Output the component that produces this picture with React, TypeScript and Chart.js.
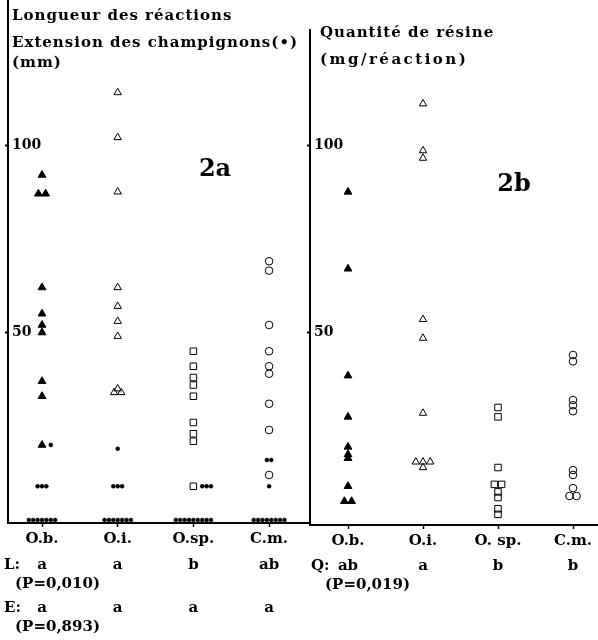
import { useEffect, useRef } from 'react';
import { Chart, registerables } from 'chart.js';

Chart.register(...registerables);

// ---------- data ----------
const categoriesLeft = ['O.b.', 'O.i.', 'O.sp.', 'C.m.'];
const categoriesRight = ['O.b.', 'O.i.', 'O. sp.', 'C.m.'];
const yTickValues = [50, 100];

// Longueur des réactions (mm)
const lengthOb = [92, 87, 87, 62, 55, 52, 50, 37, 33, 20];
const lengthOi = [114, 102, 87.5, 62, 57, 53, 49, 35, 34, 34];
const lengthOsp = [45, 41, 38, 36, 33, 26, 23, 21, 9];
const lengthCm = [69, 66.5, 52, 45, 41, 39, 31, 24, 12];

// Extension des champignons (•) (mm)
const extOb = [20, 9, 9, 9, 0, 0, 0, 0, 0, 0, 0];
const extOi = [19, 9, 9, 9, 0, 0, 0, 0, 0, 0, 0];
const extOsp = [9, 9, 9, 0, 0, 0, 0, 0, 0, 0, 0, 0];
const extCm = [16, 16, 9, 0, 0, 0, 0, 0, 0, 0, 0];

// Quantité de résine (mg/réaction)
const resinOb = [87.5, 67, 38.5, 27.5, 19.5, 17.5, 16.5, 9, 5, 5];
const resinOi = [111, 98.5, 96.5, 53.5, 48.5, 28.5, 15.5, 15.5, 15.5, 14];
const resinOsp = [30, 27.5, 14, 9.5, 9.5, 7.5, 6, 3, 1.5];
const resinCm = [44, 42.3, 32, 30.6, 29, 13.3, 12, 8.5, 6.4, 6.4];

const lettersL = ['a', 'a', 'b', 'ab'];
const lettersE = ['a', 'a', 'a', 'a'];
const lettersQ = ['ab', 'a', 'b', 'b'];
const pL = '(P=0,010)';
const pE = '(P=0,893)';
const pQ = '(P=0,019)';

const titleLeft = ['Longueur des réactions', 'Extension des champignons(•)', '(mm)'];
const titleRight = ['Quantité de résine', '(mg/réaction)'];

// ---------- styling ----------
const FAMILY = '"DejaVu Serif", "Liberation Serif", serif';
const PX_PER_UNIT_Y = 3.75;
const ZERO_Y = 520;

const markerStyles = [
  { pointStyle: 'triangle', radius: 4.5, fill: true },
  { pointStyle: 'triangle', radius: 4.3, fill: false },
  { pointStyle: 'rect', radius: 4.6, fill: false },
  { pointStyle: 'circle', radius: 3.8, fill: false },
];

type Pt = { x: number; y: number };

const MAIN_W = 7.2;
const DOT_W = 4.4;
const DOT_GAP = 3;

// spread points of equal value side by side within a category;
// dots that share a value with a main marker go to its right
function dodge(center: number, main: number[], dots: number[] | undefined, pxPerUnitX: number) {
  const mainOut: Pt[] = [];
  const dotOut: Pt[] = [];
  const values = Array.from(new Set([...main, ...(dots || [])]));
  values.forEach((v) => {
    const nm = main.filter((m) => m === v).length;
    const nd = dots ? dots.filter((d) => d === v).length : 0;
    const mainTotal = nm * MAIN_W;
    for (let k = 0; k < nm; k++) {
      const c = -mainTotal / 2 + MAIN_W * (k + 0.5);
      mainOut.push({ x: center + c / pxPerUnitX, y: v });
    }
    if (nd) {
      const start = nm ? mainTotal / 2 + DOT_GAP : -(nd * DOT_W) / 2;
      for (let k = 0; k < nd; k++) {
        const c = start + DOT_W * (k + 0.5);
        dotOut.push({ x: center + c / pxPerUnitX, y: v });
      }
    }
  });
  return { mainOut, dotOut };
}

const textPlugin = {
  id: 'panelText',
  afterDraw(chart: any, _args: any, opts: any) {
    const ctx = chart.ctx;
    ctx.save();
    ctx.fillStyle = '#000';
    ctx.textBaseline = 'middle';
    for (const t of opts.texts || []) {
      ctx.font = `bold ${t.size}px ${FAMILY}`;
      ctx.textAlign = t.align || 'left';
      (ctx as any).letterSpacing = `${t.spacing || 0}px`;
      ctx.fillText(t.text, t.x, t.y);
    }
    (ctx as any).letterSpacing = '0px';
    const xs = chart.scales.x;
    for (const row of opts.rows || []) {
      ctx.font = `bold 15px ${FAMILY}`;
      ctx.textAlign = 'center';
      row.letters.forEach((l: string, i: number) => ctx.fillText(l, xs.getPixelForValue(i), row.y));
    }
    ctx.restore();
  },
};

function buildChart(
  canvas: HTMLCanvasElement,
  cfg: {
    categories: string[];
    main: number[][];
    dots?: number[][];
    area: { left: number; right: number; top: number; bottom: number };
    firstCatX: number;
    catStep: number;
    texts: any[];
    rows: any[];
  }
) {
  const W = 598;
  const H = 640;
  const { area } = cfg;
  const pxX = cfg.catStep;
  let xAxisHeight = H - area.bottom;

  const mainPts: Pt[][] = [];
  const dotPts: Pt[] = [];
  cfg.categories.forEach((_, i) => {
    const res = dodge(i, cfg.main[i], cfg.dots ? cfg.dots[i] : undefined, pxX);
    mainPts.push(res.mainOut);
    dotPts.push(...res.dotOut);
  });

  const datasets: any[] = mainPts.map((pts, i) => {
    const m = markerStyles[i];
    return {
      label: cfg.categories[i],
      data: pts,
      pointStyle: m.pointStyle,
      pointRadius: m.radius,
      pointBorderWidth: 1,
      pointBorderColor: '#000',
      pointBackgroundColor: m.fill ? '#000' : 'rgba(0,0,0,0)',
      showLine: false,
      clip: false,
    };
  });
  if (cfg.dots) {
    datasets.push({
      label: 'Extension',
      data: dotPts,
      pointStyle: 'circle',
      pointRadius: 2,
      pointBorderWidth: 0.5,
      pointBorderColor: '#000',
      pointBackgroundColor: '#000',
      showLine: false,
      clip: false,
    });
  }

  const yFont = { family: FAMILY, size: 14, weight: 'bold' as const };
  const xFont = { family: FAMILY, size: 15, weight: 'bold' as const };

  const chart = new Chart(canvas, {
    type: 'scatter',
    data: { datasets },
    plugins: [textPlugin],
    options: {
      animation: false,
      responsive: false,
      devicePixelRatio: 1,
      layout: {
        autoPadding: false,
        padding: {
          left: area.left - 8,
          right: W - area.right,
          top: area.top,
          bottom: 0,
        },
      },
      plugins: {
        legend: { display: false },
        tooltip: { enabled: false },
        title: { display: false },
        panelText: { texts: cfg.texts, rows: cfg.rows },
      } as any,
      scales: {
        x: {
          type: 'linear',
          min: -0.5,
          max: 3.5,
          afterBuildTicks: (s: any) => {
            s.ticks = cfg.categories.map((_, i) => ({ value: i }));
          },
          afterFit: (s: any) => {
            s.height = xAxisHeight;
            s.paddingLeft = 0;
            s.paddingRight = 0;
          },
          ticks: {
            autoSkip: false,
            maxRotation: 0,
            padding: 3,
            color: '#000',
            font: xFont,
            callback: (_v: any, idx: number) => cfg.categories[idx],
          },
          grid: { drawOnChartArea: false, tickLength: 4, tickColor: '#000', tickWidth: 1.5 },
          border: { display: true, color: '#000', width: 2 },
        },
        y: {
          type: 'linear',
          min: 0,
          max: 130,
          afterBuildTicks: (s: any) => {
            s.ticks = yTickValues.map((v) => ({ value: v }));
          },
          afterFit: (s: any) => {
            s.width = 8;
            s.paddingTop = 0;
            s.paddingBottom = 0;
          },
          ticks: {
            mirror: true,
            padding: 4,
            color: '#000',
            font: yFont,
            callback: (v: any) => String(v),
          },
          grid: { drawOnChartArea: false, tickLength: 3, tickColor: '#000', tickWidth: 2 },
          border: { display: true, color: '#000', width: 2 },
        },
      },
    } as any,
  });

  // align the plotting area exactly with the target frame
  for (let pass = 0; pass < 2; pass++) {
    const ca = chart.chartArea;
    const p: any = chart.options.layout!.padding;
    chart.options.layout!.padding = {
      left: p.left + (area.left - ca.left),
      right: p.right + (ca.right - area.right),
      top: p.top + (area.top - ca.top),
      bottom: 0,
    };
    xAxisHeight += ca.bottom - area.bottom;
    chart.update();
  }
  const ca = chart.chartArea;
  const xs: any = chart.options.scales!.x;
  const ys: any = chart.options.scales!.y;
  xs.min = (ca.left - cfg.firstCatX) / pxX;
  xs.max = (ca.right - cfg.firstCatX) / pxX;
  ys.min = (ZERO_Y - ca.bottom) / PX_PER_UNIT_Y;
  ys.max = (ZERO_Y - ca.top) / PX_PER_UNIT_Y;
  chart.update();
  return chart;
}

export default function App() {
  const leftRef = useRef<HTMLCanvasElement | null>(null);
  const rightRef = useRef<HTMLCanvasElement | null>(null);

  useEffect(() => {
    if (!leftRef.current || !rightRef.current) return;
    const left = buildChart(leftRef.current, {
      categories: categoriesLeft,
      main: [lengthOb, lengthOi, lengthOsp, lengthCm],
      dots: [extOb, extOi, extOsp, extCm],
      area: { left: 8, right: 309, top: 0, bottom: 523 },
      firstCatX: 42,
      catStep: 75.7,
      texts: [
        { text: titleLeft[0], x: 12, y: 16, size: 15, spacing: 1 },
        { text: titleLeft[1], x: 12, y: 43, size: 15, spacing: 1 },
        { text: titleLeft[2], x: 12, y: 63, size: 15, spacing: 1 },
        { text: '2a', x: 215, y: 170, size: 24, align: 'center' },
        { text: 'L:', x: 4, y: 565, size: 15 },
        { text: pL, x: 15, y: 584, size: 15 },
        { text: 'E:', x: 4, y: 608, size: 15 },
        { text: pE, x: 15, y: 627, size: 15 },
      ],
      rows: [
        { letters: lettersL, y: 565 },
        { letters: lettersE, y: 608 },
      ],
    });
    const right = buildChart(rightRef.current, {
      categories: categoriesRight,
      main: [resinOb, resinOi, resinOsp, resinCm],
      area: { left: 310, right: 598, top: 30, bottom: 525 },
      firstCatX: 348,
      catStep: 75,
      texts: [
        { text: titleRight[0], x: 320, y: 33, size: 15, spacing: 1 },
        { text: titleRight[1], x: 320, y: 60, size: 15, spacing: 2.5 },
        { text: '2b', x: 514, y: 185, size: 24, align: 'center' },
        { text: 'Q:', x: 311, y: 566, size: 15 },
        { text: pQ, x: 325, y: 585, size: 15 },
      ],
      rows: [{ letters: lettersQ, y: 566 }],
    });
    return () => {
      left.destroy();
      right.destroy();
    };
  }, []);

  const canvasStyle: React.CSSProperties = { position: 'absolute', left: 0, top: 0 };
  return (
    <div style={{ position: 'absolute', left: 0, top: 0, width: 598, height: 640, background: '#fff' }}>
      <canvas ref={leftRef} width={598} height={640} style={canvasStyle} />
      <canvas ref={rightRef} width={598} height={640} style={canvasStyle} />
    </div>
  );
}
